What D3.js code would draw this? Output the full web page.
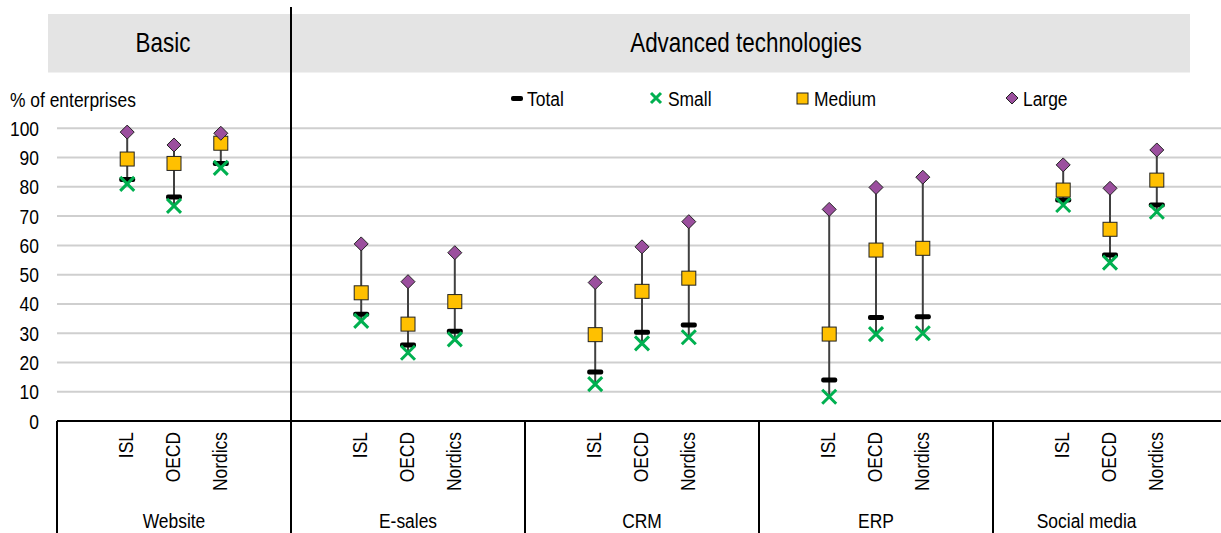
<!DOCTYPE html>
<html>
<head>
<meta charset="utf-8">
<style>
  body { margin: 0; background: #fff; }
  text { font-family: "Liberation Sans", Arial, sans-serif; fill: #000; }
</style>
</head>
<body>
<script src="https://d3js.org/d3.v7.min.js"></script>
<script>
var width = 1221, height = 533, narrow = 0.83;

// data
var groups = ["Website", "E-sales", "CRM", "ERP", "Social media"];
var regions = ["ISL", "OECD", "Nordics"];
var total  = [82.5, 76.5, 88,   36.5, 26,   30.7, 16.7, 30.3, 32.8, 14,   35.4, 35.6, 75.5, 56.7, 73.8];
var small  = [81,   73.5, 86.5, 34.2, 23.3, 27.9, 12.6, 26.5, 28.6, 8.3,  29.7, 30,   73.8, 54.1, 71.5];
var medium = [89.5, 88,   94.9, 43.8, 33.1, 40.8, 29.5, 44.3, 48.8, 29.7, 58.4, 59,   78.9, 65.5, 82.3];
var large  = [98.7, 94.3, 98.3, 60.5, 47.6, 57.5, 47.3, 59.5, 68.1, 72.3, 79.8, 83.3, 87.5, 79.5, 92.6];
var yTicks = [0, 10, 20, 30, 40, 50, 60, 70, 80, 90, 100];

var rows = [];
groups.forEach(function(g, gi) {
  regions.forEach(function(r, ri) {
    var i = gi * 3 + ri;
    rows.push({group: g, region: r, key: g + "|" + r, total: total[i], small: small[i], medium: medium[i], large: large[i]});
  });
});

// each group gets an empty slot on both sides
var slots = [];
groups.forEach(function(g) {
  slots.push(g + "|a");
  regions.forEach(function(r) { slots.push(g + "|" + r); });
  slots.push(g + "|b");
});

var x = d3.scaleBand().domain(slots).range([57, 1227]);
var y = d3.scaleLinear().domain([0, 100]).range([421, 128.3]);

var svg = d3.select("body").append("svg")
    .attr("width", width)
    .attr("height", height);

// condensed look: squeeze text horizontally
function label(parent, tx, ty, str, size, anchor, rot) {
  return parent.append("text")
    .attr("transform", "translate(" + tx + "," + ty + ")" + (rot ? " rotate(" + rot + ")" : "") + " scale(" + narrow + ",1)")
    .attr("text-anchor", anchor || "start")
    .style("font-size", size + "px")
    .text(str);
}

// header band
svg.append("rect").attr("x", 48).attr("y", 14).attr("width", 1142).attr("height", 58.5).attr("fill", "#e4e4e4");
label(svg, 163, 51.5, "Basic", 27, "middle");
label(svg, 746, 51.5, "Advanced technologies", 27, "middle");

// gridlines
svg.append("g").selectAll("line")
  .data(yTicks.filter(function(d) { return d > 0; }))
  .enter().append("line")
    .attr("x1", 57).attr("x2", width)
    .attr("y1", function(d) { return y(d); })
    .attr("y2", function(d) { return y(d); })
    .attr("stroke", "#cfcfcf").attr("stroke-width", 2);

// y labels
yTicks.forEach(function(t) {
  label(svg, 39, y(t) + 7.5, t, 21, "end");
});
label(svg, 10, 107, "% of enterprises", 21);

// baseline and dividers
svg.append("line").attr("x1", 57).attr("x2", width).attr("y1", y(0)).attr("y2", y(0))
  .attr("stroke", "#000").attr("stroke-width", 2);
groups.forEach(function(g, gi) {
  var gx = x(g + "|a");
  svg.append("line")
    .attr("x1", gx).attr("x2", gx)
    .attr("y1", gi === 1 ? 7 : y(0)).attr("y2", height)
    .attr("stroke", "#000").attr("stroke-width", 2);
  // last group is cut by the frame, its label sits a bit left of centre
  var cx = (x(g + "|a") + x(g + "|b") + x.bandwidth()) / 2;
  if (gi === groups.length - 1) cx = x(g + "|OECD");
  label(svg, cx, 528, g, 21, "middle");
});

// region labels (rotated)
rows.forEach(function(d) {
  label(svg, x(d.key) + x.bandwidth() / 2 + 6, 432, d.region, 21, "end", -90);
});

// high-low lines and markers
var pts = svg.append("g").selectAll("g")
  .data(rows)
  .enter().append("g")
    .attr("transform", function(d) { return "translate(" + (x(d.key) + x.bandwidth() / 2) + ",0)"; });

pts.append("line")
  .attr("y1", function(d) { return y(d.large); })
  .attr("y2", function(d) { return y(d.small); })
  .attr("stroke", "#404040").attr("stroke-width", 2);

pts.append("rect")
  .attr("x", -8).attr("width", 16).attr("height", 5).attr("rx", 2)
  .attr("y", function(d) { return y(d.total) - 2.5; })
  .attr("fill", "#000");

pts.append("path")
  .attr("d", "M-7,-7L7,7M-7,7L7,-7")
  .attr("transform", function(d) { return "translate(0," + y(d.small) + ")"; })
  .attr("stroke", "#00b050").attr("stroke-width", 3).attr("fill", "none");

pts.append("rect")
  .attr("x", -7).attr("width", 14).attr("height", 14)
  .attr("y", function(d) { return y(d.medium) - 7; })
  .attr("fill", "#ffc000").attr("stroke", "#222").attr("stroke-width", 1);

pts.append("path")
  .attr("d", "M0,-7L7,0L0,7L-7,0Z")
  .attr("transform", function(d) { return "translate(0," + y(d.large) + ")"; })
  .attr("fill", "#9b4f9e").attr("stroke", "#222").attr("stroke-width", 1);

// legend
var lg = svg.append("g");
lg.append("rect").attr("x", 511).attr("y", 96).attr("width", 12).attr("height", 5).attr("rx", 2).attr("fill", "#000");
label(lg, 527, 106, "Total", 21);
lg.append("path").attr("d", "M651,93L661,103M651,103L661,93").attr("stroke", "#00b050").attr("stroke-width", 3);
label(lg, 668, 106, "Small", 21);
lg.append("rect").attr("x", 797).attr("y", 93).attr("width", 11).attr("height", 11).attr("fill", "#ffc000").attr("stroke", "#222");
label(lg, 814, 106, "Medium", 21);
lg.append("path").attr("d", "M1012,92L1018,98L1012,104L1006,98Z").attr("fill", "#9b4f9e").attr("stroke", "#222");
label(lg, 1023, 106, "Large", 21);
</script>
</body>
</html>
